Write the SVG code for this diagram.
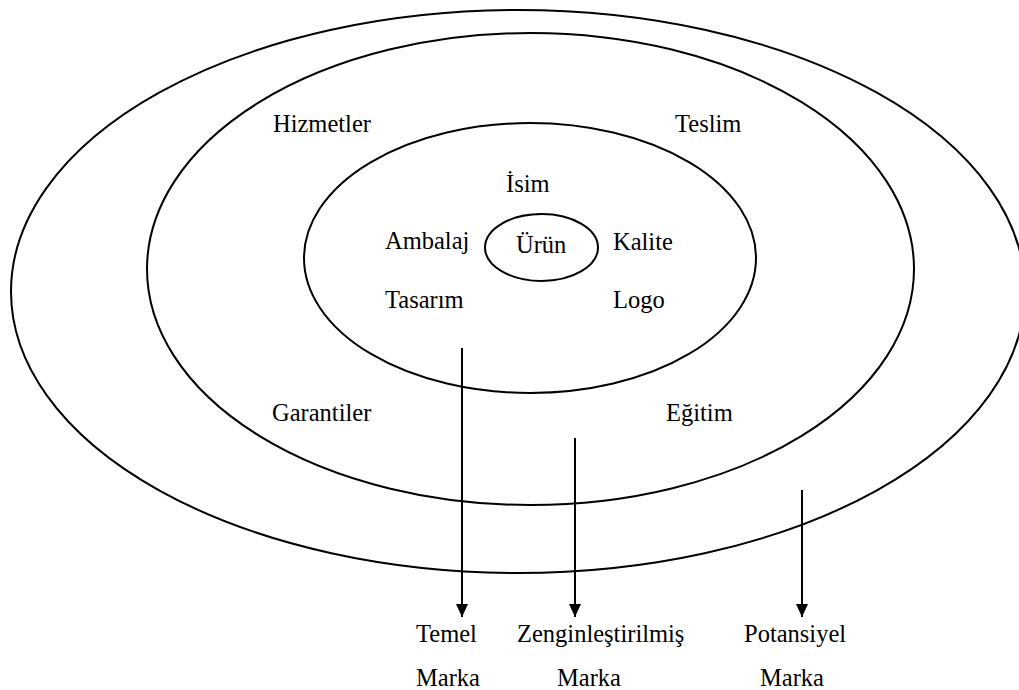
<svg xmlns="http://www.w3.org/2000/svg" width="1019" height="690" viewBox="0 0 1019 690" font-family="'Liberation Serif', 'DejaVu Serif', serif">
  <style>
    .ring { fill: none; stroke: #000; stroke-width: 2; }
    text { font-family: 'Liberation Serif', 'DejaVu Serif', serif; font-size: 24.5px; fill: #000; }
    .arrow { stroke: #000; stroke-width: 2; fill: none; marker-end: url(#head); }
  </style>
  <defs>
    <marker id="head" markerWidth="13" markerHeight="12" refX="13" refY="6" orient="auto" markerUnits="userSpaceOnUse">
      <path d="M0,0 L13,6 L0,12 Z" fill="#000"/>
    </marker>
  </defs>
  <rect width="1019" height="690" fill="#fff"/>

  <!-- Potential brand ring -->
  <g id="potansiyel">
    <ellipse class="ring" cx="518" cy="291.5" rx="507" ry="281.5"/>
  </g>

  <!-- Augmented brand ring -->
  <g id="zenginlestirilmis">
    <ellipse class="ring" cx="530.5" cy="269" rx="383.5" ry="236"/>
    <text x="273" y="132">Hizmetler</text>
    <text x="675" y="132">Teslim</text>
    <text x="272" y="421">Garantiler</text>
    <text x="666" y="421">Eğitim</text>
  </g>

  <!-- Core brand ring -->
  <g id="temel">
    <ellipse class="ring" cx="530" cy="258" rx="226" ry="135"/>
    <text x="506" y="192">İsim</text>
    <text x="385" y="249">Ambalaj</text>
    <text x="613" y="250">Kalite</text>
    <text x="385" y="308">Tasarım</text>
    <text x="613" y="308">Logo</text>
  </g>

  <!-- Product core -->
  <g id="urun">
    <ellipse class="ring" cx="541.5" cy="247.5" rx="56.5" ry="33.5"/>
    <text x="516" y="253">Ürün</text>
  </g>

  <!-- Pointers to the level names -->
  <g id="connectors">
    <line class="arrow" x1="462" y1="348" x2="462" y2="617"/>
    <line class="arrow" x1="575" y1="438" x2="575" y2="617"/>
    <line class="arrow" x1="802" y1="490" x2="802" y2="617"/>
  </g>

  <!-- Level names -->
  <g id="captions">
    <text x="416" y="642">Temel</text>
    <text x="416" y="686">Marka</text>
    <text x="517" y="642">Zenginleştirilmiş</text>
    <text x="557" y="686">Marka</text>
    <text x="744" y="642">Potansiyel</text>
    <text x="760" y="686">Marka</text>
  </g>
</svg>
